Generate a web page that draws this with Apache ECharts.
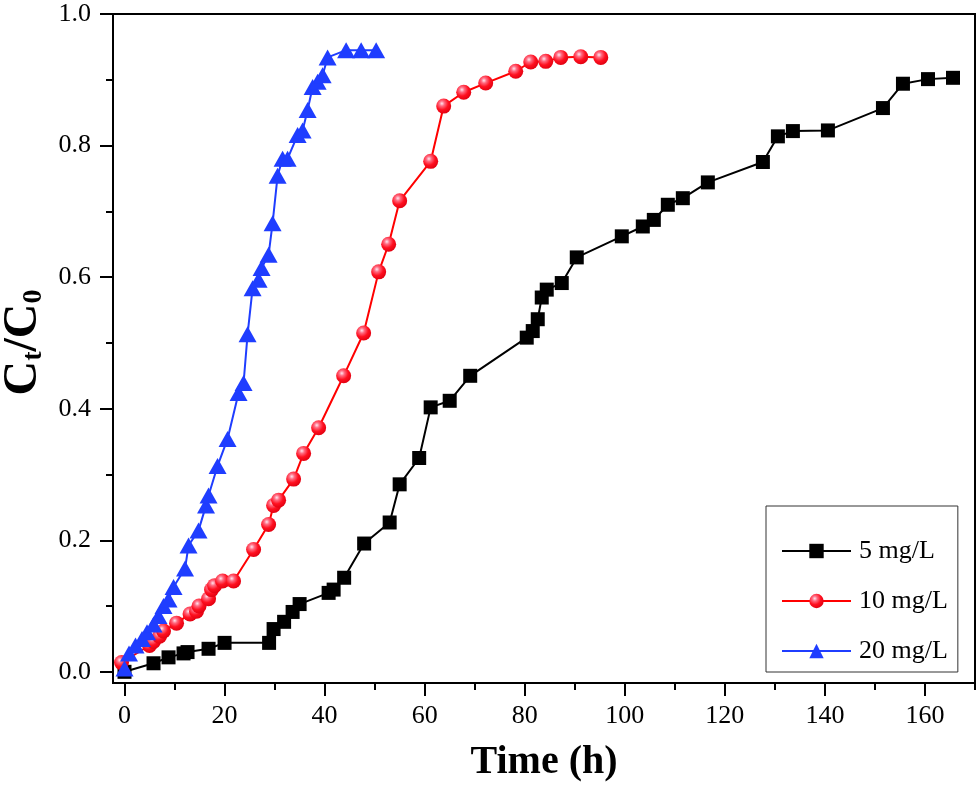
<!DOCTYPE html>
<html>
<head>
<meta charset="utf-8">
<script src="https://cdn.jsdelivr.net/npm/echarts@6/dist/echarts.min.js"></script>
<style>html,body{margin:0;padding:0;background:#fff;}#c{width:980px;height:785px;}</style>
</head>
<body>
<div id="c"></div>
<script>
// ---- data ----
var seriesNames = ['5 mg/L', '10 mg/L', '20 mg/L'];
var time5 = [0, 5.8, 8.8, 11.8, 12.6, 16.8, 20.0, 28.9, 29.8, 31.9, 33.6, 35.0, 40.8, 41.8, 43.9, 47.9, 53.0, 55.0, 58.9, 61.2, 65.0, 69.1, 80.4, 81.6, 82.6, 83.4, 84.4, 87.4, 90.4, 99.4, 103.6, 105.8, 108.6, 111.6, 116.6, 127.6, 130.6, 133.6, 140.6, 151.6, 155.6, 160.6, 165.6];
var ratio5 = [0.0, 0.013, 0.022, 0.028, 0.030, 0.035, 0.044, 0.044, 0.065, 0.076, 0.091, 0.103, 0.120, 0.125, 0.143, 0.195, 0.227, 0.285, 0.325, 0.402, 0.412, 0.450, 0.508, 0.518, 0.536, 0.569, 0.581, 0.591, 0.630, 0.662, 0.677, 0.687, 0.710, 0.720, 0.744, 0.775, 0.814, 0.822, 0.823, 0.857, 0.894, 0.901, 0.903];
var time10 = [-0.6, 5.0, 5.8, 7.0, 7.8, 10.4, 13.1, 14.4, 14.9, 16.8, 17.4, 18.0, 19.6, 21.8, 25.8, 28.8, 29.8, 30.8, 33.8, 35.8, 38.8, 43.8, 47.8, 50.8, 52.8, 55.0, 61.2, 63.8, 67.8, 72.2, 78.2, 81.2, 84.2, 87.2, 91.2, 95.2];
var ratio10 = [0.014, 0.040, 0.046, 0.054, 0.062, 0.074, 0.088, 0.092, 0.100, 0.111, 0.125, 0.131, 0.138, 0.138, 0.186, 0.224, 0.253, 0.261, 0.293, 0.332, 0.371, 0.450, 0.515, 0.608, 0.650, 0.716, 0.776, 0.860, 0.881, 0.895, 0.913, 0.927, 0.928, 0.934, 0.935, 0.934];
var time20 = [0, 0.9, 2.2, 3.5, 4.5, 5.8, 6.8, 7.8, 8.8, 9.8, 12.1, 12.8, 14.8, 16.3, 16.8, 18.6, 20.6, 22.8, 23.8, 24.6, 25.6, 26.8, 27.4, 28.8, 29.6, 30.6, 31.6, 32.6, 34.6, 35.6, 36.6, 37.6, 38.6, 39.6, 40.6, 44.3, 47.3, 50.3];
var ratio20 = [0.005, 0.028, 0.040, 0.050, 0.060, 0.072, 0.085, 0.100, 0.110, 0.129, 0.157, 0.192, 0.215, 0.253, 0.268, 0.313, 0.354, 0.424, 0.439, 0.513, 0.583, 0.596, 0.614, 0.634, 0.682, 0.754, 0.780, 0.780, 0.816, 0.823, 0.854, 0.889, 0.897, 0.907, 0.934, 0.945, 0.945, 0.945];
var xMajorTicks = [0, 20, 40, 60, 80, 100, 120, 140, 160];
var xMinorTicks = [10, 30, 50, 70, 90, 110, 130, 150, 170];
var yMajorTicks = [0.0, 0.2, 0.4, 0.6, 0.8, 1.0];
var yMinorTicks = [0.1, 0.3, 0.5, 0.7, 0.9];
var xTitle = 'Time (h)';

function pairs(xs, ys) { return xs.map(function (x, i) { return [x, ys[i]]; }); }

var FONT = '"Liberation Serif", "Times New Roman", serif';
var X_MIN = -2.3, X_MAX = 170, Y_MIN = -0.017, Y_MAX = 1.0;
var chart = echarts.init(document.getElementById('c'), null, { renderer: 'canvas' });

var sphere = {
  type: 'radial', x: 0.38, y: 0.33, r: 0.7,
  colorStops: [
    { offset: 0, color: '#ffe6f0' },
    { offset: 0.25, color: '#ff6a80' },
    { offset: 0.6, color: '#ff1020' },
    { offset: 1, color: '#e00010' }
  ]
};

var option = {
  animation: false,
  backgroundColor: '#fff',
  grid: { left: 113, right: 5, top: 14, bottom: 102, containLabel: false, outerBoundsMode: 'none', show: true, borderColor: '#000', borderWidth: 2, backgroundColor: 'transparent' },
  legend: {
    left: 766, top: 506, orient: 'vertical',
    width: 160,
    borderColor: '#333', borderWidth: 1, backgroundColor: '#fff',
    padding: [32, 10, 8, 15],
    itemWidth: 69, itemHeight: 18, itemGap: 24,
    textStyle: { fontFamily: FONT, fontSize: 26, color: '#000', lineHeight: 24, padding: [0, 0, 0, 3] },
    data: seriesNames
  },
  xAxis: [{
    type: 'value', min: X_MIN, max: X_MAX,
    name: xTitle, nameLocation: 'middle', nameGap: 60,
    nameTextStyle: { fontFamily: FONT, fontSize: 40, fontWeight: 'bold', color: '#000' },
    axisLine: { onZero: false, lineStyle: { color: '#000', width: 2 } },
    axisTick: { show: true, inside: false, length: 13, lineStyle: { color: '#000', width: 2 }, customValues: xMajorTicks },
    axisLabel: { fontFamily: FONT, fontSize: 26, color: '#000', margin: 20, customValues: xMajorTicks, formatter: function (v) { return String(Math.round(v)); } },
    splitLine: { show: false }
  }, {
    type: 'value', min: X_MIN, max: X_MAX, position: 'bottom',
    axisLine: { show: false, onZero: false },
    axisTick: { show: true, length: 7, lineStyle: { color: '#000', width: 2 }, customValues: xMinorTicks },
    axisLabel: { show: false },
    splitLine: { show: false }
  }],
  yAxis: [{
    type: 'value', min: Y_MIN, max: Y_MAX,
    name: '{m|C}{s|t}{m|/C}{s|0}', nameLocation: 'middle', nameGap: 60, nameRotate: 90,
    nameTextStyle: {
      padding: [0, 0, 0, 12],
      rich: {
        m: { fontFamily: FONT, fontSize: 48, fontWeight: 'bold', color: '#000', lineHeight: 56, verticalAlign: 'bottom' },
        s: { fontFamily: FONT, fontSize: 28, fontWeight: 'bold', color: '#000', lineHeight: 34, verticalAlign: 'bottom' }
      }
    },
    axisLine: { onZero: false, lineStyle: { color: '#000', width: 2 } },
    axisTick: { show: true, length: 13, lineStyle: { color: '#000', width: 2 }, customValues: yMajorTicks },
    axisLabel: { fontFamily: FONT, fontSize: 26, color: '#000', margin: 22, customValues: yMajorTicks, formatter: function (v) { return v.toFixed(1); } },
    splitLine: { show: false }
  }, {
    type: 'value', min: Y_MIN, max: Y_MAX, position: 'left',
    axisLine: { show: false, onZero: false },
    axisTick: { show: true, length: 7, lineStyle: { color: '#000', width: 2 }, customValues: yMinorTicks },
    axisLabel: { show: false },
    splitLine: { show: false }
  }],
  series: [{
    name: seriesNames[0], type: 'line', data: pairs(time5, ratio5),
    symbol: 'rect', symbolSize: 14,
    lineStyle: { color: '#000', width: 2 },
    itemStyle: { color: '#000' }
  }, {
    name: seriesNames[1], type: 'line', data: pairs(time10, ratio10),
    symbol: 'circle', symbolSize: 15,
    lineStyle: { color: '#ff0000', width: 2 },
    itemStyle: { color: sphere }
  }, {
    name: seriesNames[2], type: 'line', data: pairs(time20, ratio20),
    symbol: 'triangle', symbolSize: [18, 16],
    lineStyle: { color: '#1f3dff', width: 2 },
    itemStyle: { color: '#1f3dff' }
  }]
};
chart.setOption(option);
</script>
</body>
</html>
